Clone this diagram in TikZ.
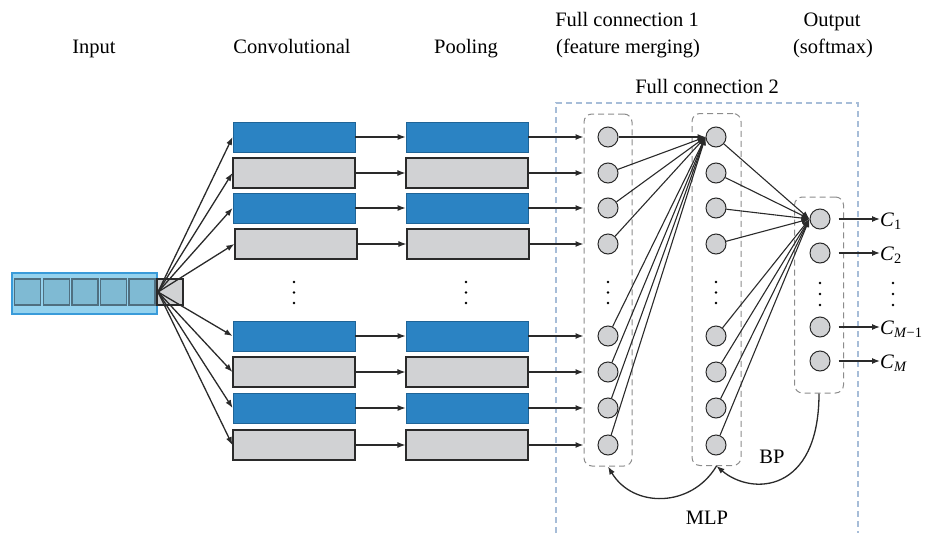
\documentclass[tikz,border=0pt]{standalone}
\usepackage{fontspec}
\setmainfont{Liberation Serif}
\usetikzlibrary{arrows.meta}
\definecolor{cblue}{HTML}{2B83C3}
\definecolor{cblueb}{HTML}{1F6497}
\definecolor{cgray}{HTML}{D1D2D4}
\definecolor{cdark}{HTML}{2A2A2A}
\definecolor{inbg}{HTML}{94D2EE}
\definecolor{inbd}{HTML}{3A9BD9}
\definecolor{insq}{HTML}{7FBAD3}
\definecolor{insqb}{HTML}{4F6F80}
\definecolor{fcblue}{HTML}{A7BDD8}
\definecolor{dashgray}{HTML}{8C8C8C}
\tikzset{
  bluebox/.style={draw=cblueb, fill=cblue, line width=0.8, minimum width=122, minimum height=30, inner sep=0},
  graybox/.style={draw=cdark, fill=cgray, line width=1.2, minimum width=122, minimum height=30, inner sep=0},
  neuron/.style={circle, draw=cdark, fill=cgray, line width=1, minimum size=20, inner sep=0},
  insquare/.style={draw=insqb, fill=insq, line width=1.1, minimum size=26, inner sep=0},
  arr/.style={-{Latex[length=8,width=6]}, line width=1.3, draw=cdark},
  thinarr/.style={-{Latex[length=8,width=6]}, line width=1.1, draw=cdark},
  colbox/.style={draw=dashgray, dashed, dash pattern=on 6 off 4, rounded corners=8, line width=1, inner sep=0},
  lbl/.style={font=\fontsize{20.5}{24}\selectfont, inner sep=0},
  dotmark/.style={circle, fill=black, minimum size=2.8, inner sep=0}
}
\begin{document}
\begin{tikzpicture}[x=1pt,y=-1pt]
\useasboundingbox (0,0) rectangle (926,533);

% top labels
\node[lbl, anchor=base] (tIn) at (94,53) {Input};
\node[lbl, anchor=base] (tConv) at (292,53) {Convolutional};
\node[lbl, anchor=base] (tPool) at (466,53) {Pooling};
\node[lbl, anchor=base] (tFc1a) at (627,26) {Full connection 1};
\node[lbl, anchor=base] (tFc1b) at (628,53) {(feature merging)};
\node[lbl, anchor=base] (tOuta) at (832,26) {Output};
\node[lbl, anchor=base] (tOutb) at (833,53) {(softmax)};
\node[lbl, anchor=base] (tFc2) at (707,93) {Full connection 2};

% FC2 open dashed frame
\draw[fcblue, line width=1.1, dash pattern=on 6 off 4] (556,533) -- (556,103) -- (858,103) -- (858,533);

% input
\node[draw=inbd, fill=inbg, line width=1.1, minimum width=145, minimum height=41, inner sep=0] (inbox) at (84.5,293.5) {};
\foreach \i/\x in {1/27.5,2/56.5,3/85,4/113.5,5/142}
  \node[insquare] (sq\i) at (\x,292) {};
\node[draw=cdark, fill=cgray, line width=1.1, minimum size=26, inner sep=0] (insq6) at (170,292) {};
\coordinate (fan) at (158,292);

% conv and pooling
\foreach \i/\y/\s in {1/137/bluebox,2/173/graybox,3/208/bluebox,5/336/bluebox,6/372/graybox,7/408/bluebox,8/445/graybox}{
  \node[\s] (c\i) at (294,\y) {};
  \node[\s] (p\i) at (467,\y) {};
}
\node[graybox] (c4) at (296,244) {};
\node[graybox] (p4) at (468,244) {};

\foreach \y in {282,292.5,303}{
  \node[dotmark] at (294,\y) {};
  \node[dotmark] at (466,\y) {};
  \node[dotmark] at (608,\y) {};
  \node[dotmark] at (716,\y) {};
}
\foreach \y in {283,294,305}{
  \node[dotmark] at (820,\y) {};
  \node[dotmark] at (893,\y) {};
}

% column boxes
\node[colbox, minimum width=48, minimum height=352] (fc1box) at (608,290) {};
\node[colbox, minimum width=49, minimum height=352] (fc2box) at (716.5,289.5) {};
\node[colbox, minimum width=49, minimum height=196] (outbox) at (819,295) {};

% neurons
\foreach \i/\y in {1/137,2/173,3/208,4/244,5/336,6/372,7/408,8/445}{
  \node[neuron] (a\i) at (608,\y) {};
  \node[neuron] (b\i) at (716,\y) {};
}
\node[neuron] (o1) at (820,219) {};
\node[neuron] (o2) at (820,253) {};
\node[neuron] (o3) at (820,327) {};
\node[neuron] (o4) at (820,361) {};

% arrows input -> conv
\foreach \i in {1,...,8}
  \draw[arr] (fan) -- (c\i.west);
% conv -> pool
\foreach \i in {1,...,8}
  \draw[thinarr] (c\i.east) -- (p\i.west);
% pool -> fc1
\foreach \i in {1,...,8}
  \draw[arr] (p\i.east) -- (fc1box.west |- p\i.east);
% fc1 -> fc2 first neuron
\foreach \i in {1,...,8}
  \draw[thinarr] (a\i) -- (b1.west);
% fc2 -> output first neuron
\foreach \i in {1,...,8}
  \draw[thinarr] (b\i) -- (o1.west);

% outputs
\node[lbl, anchor=west] (C1) at (880,221) {\textit{C}\textsubscript{1}};
\node[lbl, anchor=west] (C2) at (880,255) {\textit{C}\textsubscript{2}};
\node[lbl, anchor=west] (C3) at (880,329) {\textit{C}\textsubscript{\textit{M}−1}};
\node[lbl, anchor=west] (C4) at (880,363) {\textit{C}\textsubscript{\textit{M}}};
\draw[arr] ([xshift=8]o1.east) -- (C1.west |- o1.east);
\draw[arr] ([xshift=8]o2.east) -- (C2.west |- o2.east);
\draw[arr] ([xshift=8]o3.east) -- (C3.west |- o3.east);
\draw[arr] ([xshift=8]o4.east) -- (C4.west |- o4.east);

% feedback curves
\draw[arr] (outbox.south) .. controls +(0,100) and +(35,30) .. (fc2box.south);
\draw[arr] (fc2box.south) .. controls +(-25,42) and +(25,42) .. (fc1box.south);
\node[lbl, anchor=base] (bp) at (772,463) {BP};
\node[lbl, anchor=base] (mlp) at (707,524) {MLP};
\end{tikzpicture}
\end{document}
